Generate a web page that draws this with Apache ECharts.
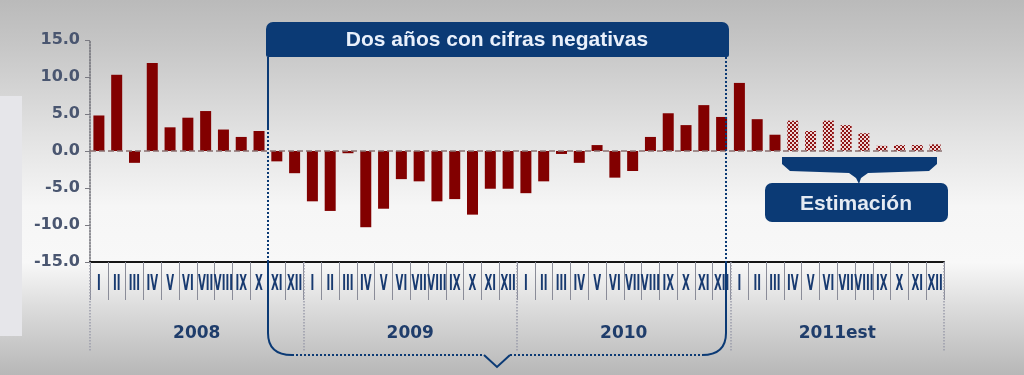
<!DOCTYPE html>
<html>
<head>
<meta charset="utf-8">
<script src="https://cdn.jsdelivr.net/npm/echarts@6/dist/echarts.min.js"></script>
<style>
  html, body { margin: 0; padding: 0; background: #d0d0d0; }
  #chart { width: 1024px; height: 375px; }
</style>
</head>
<body>
<div id="chart"></div>
<script>
// Monthly variation (%), 2008 – 2011 (2011 from April onwards is an estimate)
const months = ['I', 'II', 'III', 'IV', 'V', 'VI', 'VII', 'VIII', 'IX', 'X', 'XI', 'XII'];
const years = ['2008', '2009', '2010', '2011est'];
const v2008 = [4.8, 10.3, -1.6, 11.9, 3.2, 4.5, 5.4, 2.9, 1.9, 2.7, -1.4, -3.0];
const v2009 = [-6.8, -8.1, -0.3, -10.3, -7.8, -3.8, -4.1, -6.8, -6.5, -8.6, -5.1, -5.1];
const v2010 = [-5.7, -4.1, -0.4, -1.6, 0.8, -3.6, -2.7, 1.9, 5.1, 3.5, 6.2, 4.6];
const v2011 = [9.2, 4.3, 2.2, 4.1, 2.7, 4.1, 3.5, 2.4, 0.7, 0.8, 0.8, 0.9];
const est2011 = [false, false, false, true, true, true, true, true, true, true, true, true];
const yTicks = { min: -15, max: 15, step: 5 };

const NAVY = '#0b3a75';
const BAR = '#820000';

// checkered fill for estimated months
const pat = document.createElement('canvas');
pat.width = 4; pat.height = 4;
const pctx = pat.getContext('2d');
pctx.fillStyle = '#efd8d8';
pctx.fillRect(0, 0, 4, 4);
pctx.fillStyle = '#8e1414';
pctx.fillRect(0, 0, 2, 2);
pctx.fillRect(2, 2, 2, 2);

const categories = [];
const barData = [];
[v2008, v2009, v2010, v2011].forEach((vals, yi) => {
  vals.forEach((v, mi) => {
    categories.push(years[yi] + '-' + months[mi]);
    const estimated = yi === 3 && est2011[mi];
    barData.push({
      value: v,
      itemStyle: { color: estimated ? { image: pat, repeat: 'repeat' } : BAR }
    });
  });
});

const chart = echarts.init(document.getElementById('chart'), null, { renderer: 'canvas' });

function staticGraphics() {
  const navyLine = (x1, y1, x2, y2, type, w) => ({
    type: 'line', silent: true, z: 50,
    shape: { x1, y1, x2, y2 },
    style: { stroke: NAVY, lineWidth: w || 2, lineDash: type === 'dotted' ? [2, 2] : null }
  });
  return [
    {
      type: 'rect', z: -100, silent: true,
      shape: { x: 0, y: 0, width: 1024, height: 375 },
      style: {
        fill: new echarts.graphic.LinearGradient(0, 0, 0, 1, [
          { offset: 0, color: '#bababa' },
          { offset: 0.12, color: '#c6c6c6' },
          { offset: 0.35, color: '#e1e1e1' },
          { offset: 0.55, color: '#f6f6f6' },
          { offset: 0.7, color: '#f8f8f8' },
          { offset: 0.82, color: '#dcdcdc' },
          { offset: 1, color: '#b7b7b7' }
        ])
      }
    },
    {
      type: 'rect', z: -99, silent: true,
      shape: { x: 0, y: 96, width: 22, height: 240 },
      style: { fill: '#e6e6ea' }
    },
    // "Dos años con cifras negativas" banner and brace
    {
      type: 'rect', z: 60, silent: true,
      shape: { x: 266, y: 22, width: 463, height: 35, r: [7, 7, 2, 2] },
      style: { fill: NAVY }
    },
    {
      type: 'text', z: 61, silent: true, x: 497, y: 40,
      style: {
        text: 'Dos años con cifras negativas', fill: '#e9f0fb',
        font: 'bold 21px "Liberation Sans", Arial, sans-serif',
        align: 'center', verticalAlign: 'middle'
      }
    },
    navyLine(268, 57, 268, 128, 'solid'),
    navyLine(268, 128, 268, 262, 'dotted'),
    navyLine(268, 262, 268, 333, 'solid'),
    {
      type: 'bezierCurve', z: 50, silent: true,
      shape: { x1: 268, y1: 333, cpx1: 268, cpy1: 355, x2: 292, y2: 355 },
      style: { stroke: NAVY, lineWidth: 2, fill: null }
    },
    navyLine(292, 355, 484, 355, 'dotted'),
    {
      type: 'polyline', z: 50, silent: true,
      shape: { points: [[484, 355], [497, 367], [510, 355]] },
      style: { stroke: NAVY, lineWidth: 2, fill: null }
    },
    navyLine(510, 355, 702, 355, 'dotted'),
    {
      type: 'bezierCurve', z: 50, silent: true,
      shape: { x1: 702, y1: 355, cpx1: 726, cpy1: 355, x2: 726, y2: 333 },
      style: { stroke: NAVY, lineWidth: 2, fill: null }
    },
    navyLine(726, 57, 726, 262, 'dotted'),
    navyLine(726, 262, 726, 333, 'solid'),
    // "Estimación" brace and label
    {
      type: 'polygon', z: 60, silent: true,
      shape: {
        points: [[782, 157], [937, 157], [937, 164], [929, 171], [868, 173], [861, 178], [859, 184],
                 [856, 178], [849, 173], [790, 171], [782, 164]]
      },
      style: { fill: NAVY }
    },
    {
      type: 'rect', z: 60, silent: true,
      shape: { x: 765, y: 183, width: 183, height: 39, r: 7 },
      style: { fill: NAVY }
    },
    {
      type: 'text', z: 61, silent: true, x: 856, y: 204,
      style: {
        text: 'Estimación', fill: '#e4eaf3',
        font: 'bold 21px "Liberation Sans", Arial, sans-serif',
        align: 'center', verticalAlign: 'middle'
      }
    }
  ];
}

const option = {
  animation: false,
  grid: { left: 90, right: 80, top: 40, bottom: 113, containLabel: false },
  xAxis: [
    {
      type: 'category',
      data: categories,
      position: 'bottom',
      offset: 0,
      axisLine: { show: true, onZero: false, lineStyle: { color: '#151515', width: 2 } },
      axisTick: { show: true, interval: 0, length: 38, lineStyle: { color: '#8a8c98', width: 1 } },
      axisLabel: { show: false },
      splitLine: { show: false }
    },
    {
      type: 'category',
      data: years,
      position: 'bottom',
      offset: 0,
      axisLine: { show: false, onZero: false },
      axisTick: { show: true, interval: 0, length: 90, lineStyle: { color: '#9a9cab', width: 1.5, type: 'dotted' } },
      axisLabel: {
        show: true, interval: 0, margin: 63,
        color: '#1f3d6b', fontSize: 17, fontWeight: 'bold',
        fontFamily: '"DejaVu Sans", Verdana, sans-serif'
      },
      splitLine: { show: false }
    }
  ],
  yAxis: {
    type: 'value',
    min: yTicks.min,
    max: yTicks.max,
    interval: yTicks.step,
    axisLine: { show: true, lineStyle: { color: '#6c6c74', width: 1.5, type: 'dotted' } },
    axisTick: { show: true, length: 5, lineStyle: { color: '#7a7a82' } },
    splitLine: { show: false },
    axisLabel: {
      margin: 10,
      color: '#4a5670',
      fontSize: 16,
      fontWeight: 'bold',
      fontFamily: '"DejaVu Sans", Verdana, sans-serif',
      formatter: v => v.toFixed(1)
    }
  },
  series: [
    {
      type: 'bar',
      xAxisIndex: 0,
      data: barData,
      barWidth: 11,
      markLine: {
        silent: true,
        symbol: 'none',
        label: { show: false },
        lineStyle: { color: '#8a7070', width: 1.5, type: [6, 3] },
        data: [{ yAxis: 0 }]
      }
    }
  ],
  graphic: { elements: staticGraphics() }
};

chart.setOption(option);

// Roman month labels under each bar, narrowed to fit the slot width
const monthLabels = categories.map((c, i) => {
  const x = chart.convertToPixel({ xAxisIndex: 0 }, i);
  return {
    type: 'text', z: 40, silent: true,
    x: x, y: 284, scaleX: 0.46, scaleY: 1,
    style: {
      text: months[i % 12], fill: '#183a70',
      font: 'bold 22px "DejaVu Sans", Verdana, sans-serif',
      align: 'center', verticalAlign: 'middle'
    }
  };
});

chart.setOption({ graphic: { elements: staticGraphics().concat(monthLabels) } });
</script>
</body>
</html>
